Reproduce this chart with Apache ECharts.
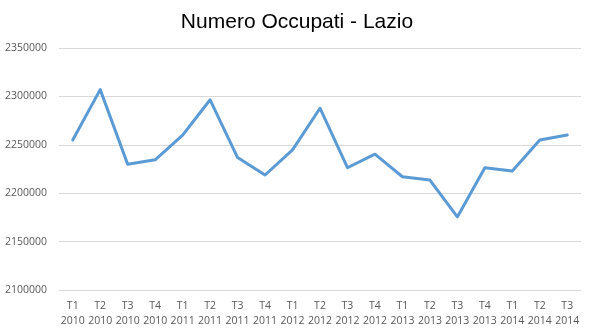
<!DOCTYPE html>
<html>
<head>
<meta charset="utf-8">
<script src="https://cdn.jsdelivr.net/npm/echarts@6/dist/echarts.min.js"></script>
<style>
html,body{margin:0;padding:0;background:#fff;}
#c{width:594px;height:332px;}
</style>
</head>
<body>
<div id="c"></div>
<script>
var categories = ["T1\n2010","T2\n2010","T3\n2010","T4\n2010","T1\n2011","T2\n2011","T3\n2011","T4\n2011","T1\n2012","T2\n2012","T3\n2012","T4\n2012","T1\n2013","T2\n2013","T3\n2013","T4\n2013","T1\n2014","T2\n2014","T3\n2014"];
var occupati = [2255000,2307000,2230000,2234500,2260000,2296500,2236800,2218800,2244800,2287800,2226300,2240300,2217000,2213600,2175500,2226300,2223000,2255000,2260200];
var chartTitle = "Numero Occupati - Lazio";

var chart = echarts.init(document.getElementById('c'));
chart.setOption({
  animation: false,
  backgroundColor: '#ffffff',
  title: {
    text: chartTitle,
    left: 'center',
    top: 7,
    textStyle: {fontFamily: 'Liberation Sans', fontSize: 21, fontWeight: 'normal', color: '#000000'}
  },
  grid: {left: 59, right: 13, top: 48, bottom: 42},
  xAxis: {
    type: 'category',
    data: categories,
    boundaryGap: true,
    axisLine: {show: false},
    axisTick: {show: false},
    axisLabel: {fontFamily: 'Open Sans', fontSize: 10.5, color: '#595959', lineHeight: 15.5, margin: 8, interval: 0}
  },
  yAxis: {
    type: 'value',
    min: 2100000,
    max: 2350000,
    interval: 50000,
    axisLine: {show: false},
    axisTick: {show: false},
    splitLine: {lineStyle: {color: '#d9d9d9', width: 1}},
    axisLabel: {fontFamily: 'Open Sans', fontSize: 10.5, color: '#595959', margin: 12,
      formatter: function (v) { return String(v); }}
  },
  series: [{
    type: 'line',
    data: occupati,
    symbol: 'none',
    lineStyle: {color: '#5b9bd5', width: 3, join: 'round', cap: 'round'}
  }]
});
</script>
</body>
</html>
